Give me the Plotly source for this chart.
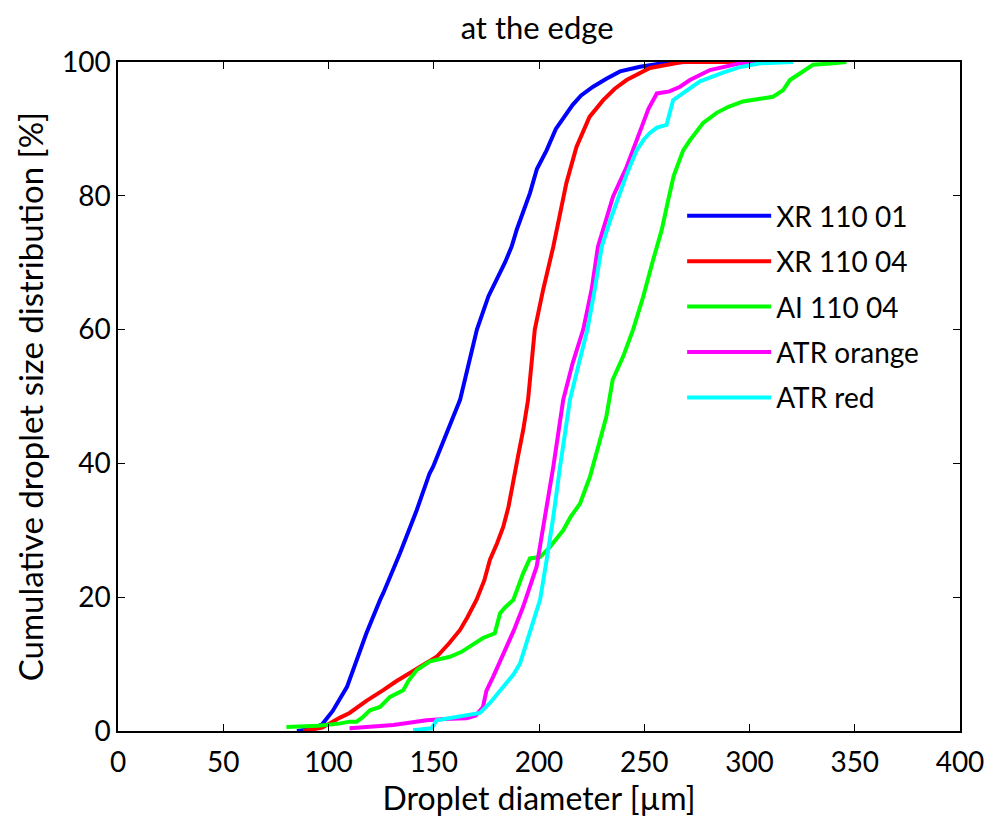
import plotly.graph_objects as go

names = ["XR 110 01", "XR 110 04", "AI 110 04", "ATR orange", "ATR red"]
colors = ["#0000FF", "#FF0000", "#00FF00", "#FF00FF", "#00FFFF"]

xr01_x = [85, 92, 97, 102, 108.8, 115, 118, 124.5, 126, 134, 141.9, 148, 149.7, 156.1, 162.5, 170.5, 176, 183.8,
          187, 189.5, 195.7, 199, 203.6, 208, 216, 220, 225.7, 232, 238.5, 248, 260.6, 270]
xr01_y = [0, 0.3, 1, 3, 6.6, 12, 14.6, 19.6, 20.6, 26.6, 33, 38.5, 39.5, 44.5, 49.5, 60, 65, 70,
          72.4, 75, 80.4, 84, 86.8, 90, 93.6, 95, 96.3, 97.5, 98.6, 99.3, 99.9, 100]

xr04_x = [88, 97, 105.5, 110, 118, 124.5, 126, 132, 138.7, 145, 151.4, 157, 162.5, 166, 170.3, 174, 176.7, 180,
          183, 185.5, 187.8, 190, 192.5, 194.8, 198, 202, 206.8, 210, 213, 217.8, 221, 224, 230.5, 236, 241.6,
          252.7, 268, 294]
xr04_y = [0, 0.5, 2, 2.7, 4.5, 5.7, 6.1, 7.4, 8.7, 10, 11.1, 13, 15.1, 17, 19.6, 22.5, 25.6, 28,
          30.5, 33.5, 37, 41, 45, 49.5, 60, 66, 72.4, 77, 81.9, 87.3, 89.5, 91.8, 94.3, 96, 97.3,
          99.1, 100, 100]

ai04_x = [80, 95, 105, 110, 113.4, 116, 119.7, 124.5, 129.2, 135.5, 138, 141.9, 148.2, 157.7, 163, 167.2, 173.4,
          179, 181.5, 184, 187.8, 192.5, 195.7, 200.5, 205.2, 211.5, 215, 219.5, 224.2, 229, 232, 235, 240, 244.7,
          249.5, 254.2, 258.3, 261.4, 264, 268.5, 271.7, 278, 284.4, 290, 296.9, 305, 311.2, 316, 319.2, 325,
          330.2, 340, 346]
ai04_y = [0.6, 0.8, 1.1, 1.4, 1.4, 2, 3.1, 3.6, 5.1, 6.1, 7.5, 9.1, 10.4, 11.1, 11.8, 12.6, 13.9,
          14.6, 17.6, 18.5, 19.6, 23.6, 25.8, 26, 27.5, 30, 32, 34, 38, 43.5, 47, 52.5, 56, 60,
          64.9, 70.4, 74.9, 79.4, 83, 86.8, 88.3, 90.9, 92.4, 93.3, 94.1, 94.5, 94.8, 95.8, 97.3, 98.5,
          99.6, 99.8, 100]

atro_x = [110, 120, 130.8, 146.6, 155, 165.6, 170, 173.4, 175, 178.2, 184.6, 188, 192.5, 198.9, 202, 206.8,
          211.5, 216, 221, 225, 228, 235.2, 241.6, 245, 248.8, 252, 254.2, 256, 262, 267, 271.7, 281.2,
          295.5, 308]
atro_y = [0.4, 0.6, 0.9, 1.6, 1.8, 1.9, 2.3, 3.6, 6, 8.1, 12.6, 15, 18.6, 24.6, 30.5, 39.5,
          49.5, 55, 60, 66, 72.4, 79.9, 84.3, 87, 90.3, 93, 94.3, 95.3, 95.6, 96.3, 97.3, 98.8,
          99.8, 100]

atrr_x = [140.2, 149, 151.4, 160.9, 168.6, 172, 176.7, 180, 184.6, 188, 191, 195.7, 200.5, 203.6, 206.8, 210,
          214.7, 219, 223, 226.5, 229.8, 234, 238.5, 242, 246.4, 250, 252.7, 256, 260.6, 262, 263.7, 270,
          276.5, 287.4, 295, 305, 320.7]
atrr_y = [0.1, 0.4, 1.6, 2.1, 2.4, 2.7, 4.2, 5.5, 7.1, 8.5, 10.1, 14.6, 19.6, 25.5, 32, 39.5,
          49.5, 55, 60, 66, 72.4, 76.5, 80.4, 83.5, 86.8, 88.5, 89.4, 90.2, 90.6, 92.5, 94.3, 95.7,
          97.1, 98.4, 99.2, 99.8, 100]

x_ticks = [0, 50, 100, 150, 200, 250, 300, 350, 400]
y_ticks = [0, 20, 40, 60, 80, 100]

series = [(xr01_x, xr01_y), (xr04_x, xr04_y), (ai04_x, ai04_y), (atro_x, atro_y), (atrr_x, atrr_y)]

FONT = "Lato"

fig = go.Figure()
for i, ((xs, ys), n, c) in enumerate(zip(series, names, colors)):
    fig.add_trace(go.Scatter(x=xs, y=ys, mode="lines", name=n, legendgroup=f"g{i}",
                             line=dict(color=c, width=4)))

axis_common = dict(showline=True, linecolor="black", linewidth=1.5, mirror="ticks",
                   ticks="inside", ticklen=7, tickwidth=1, tickcolor="black",
                   showgrid=False, zeroline=False,
                   tickfont=dict(family=FONT, size=28, color="black"))

fig.update_layout(
    width=989, height=810,
    margin=dict(l=110, r=37, t=54, b=87, autoexpand=False),
    paper_bgcolor="white", plot_bgcolor="white",
    font=dict(family=FONT, color="black"),
    title=dict(text="at the edge", x=0.535, xanchor="center", y=0.9753, yanchor="middle",
               pad=dict(t=0, b=0), font=dict(family=FONT, size=31, color="black")),
    xaxis=dict(range=[0, 400], tickvals=x_ticks, ticklabelstandoff=6,
               title=dict(text="Droplet diameter [µm]", font=dict(family=FONT, size=32), standoff=2),
               **axis_common),
    yaxis=dict(range=[0, 100], tickvals=y_ticks,
               title=dict(text="Cumulative droplet size distribution [%]", font=dict(family=FONT, size=33), standoff=8),
               **axis_common),
    legend=dict(x=0.670, y=0.807, xanchor="left", yanchor="top", bgcolor="rgba(0,0,0,0)",
                borderwidth=0, font=dict(family=FONT, size=28, color="black"),
                tracegroupgap=6, itemwidth=84),
    showlegend=True,
)

fig.write_html("out.html")
